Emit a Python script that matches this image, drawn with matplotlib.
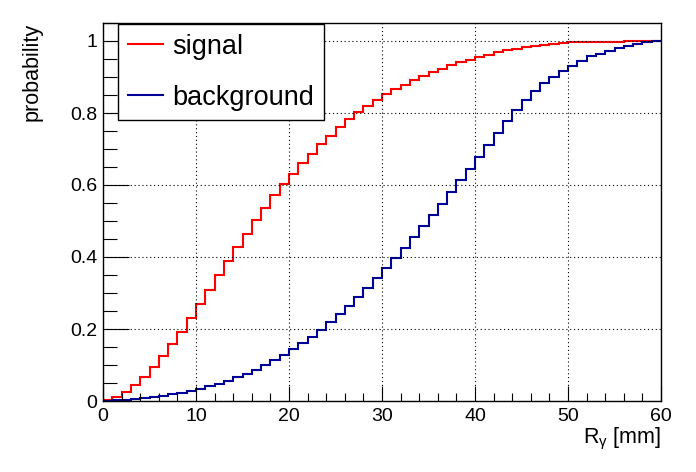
import numpy as np
import matplotlib
matplotlib.use("Agg")
import matplotlib.pyplot as plt
from matplotlib.ticker import MultipleLocator, FuncFormatter

plt.rcParams["font.family"] = ["Liberation Sans", "DejaVu Sans"]
plt.rcParams["mathtext.fontset"] = "custom"
plt.rcParams["mathtext.rm"] = "Liberation Sans"
plt.rcParams["mathtext.it"] = "Liberation Sans"
plt.rcParams["mathtext.default"] = "regular"

# bin edges of R_gamma in mm (60 bins of 1 mm)
bin_edges = np.arange(0, 61, 1)

# cumulative probability per bin
signal = [
    0.003, 0.010, 0.026, 0.044, 0.068, 0.094, 0.125, 0.159, 0.192, 0.231,
    0.269, 0.309, 0.350, 0.390, 0.428, 0.465, 0.503, 0.537, 0.573, 0.603,
    0.630, 0.660, 0.687, 0.713, 0.737, 0.760, 0.782, 0.803, 0.819, 0.836,
    0.854, 0.867, 0.879, 0.892, 0.904, 0.914, 0.923, 0.934, 0.942, 0.948,
    0.956, 0.962, 0.969, 0.974, 0.979, 0.984, 0.986, 0.989, 0.992, 0.994,
    0.996, 0.996, 0.997, 0.997, 0.997, 0.998, 0.999, 0.999, 1.000, 1.000,
]
background = [
    0.001, 0.002, 0.003, 0.006, 0.008, 0.012, 0.015, 0.019, 0.023, 0.029,
    0.034, 0.043, 0.048, 0.056, 0.068, 0.076, 0.087, 0.101, 0.115, 0.129,
    0.144, 0.161, 0.179, 0.197, 0.219, 0.242, 0.264, 0.289, 0.315, 0.342,
    0.369, 0.397, 0.425, 0.456, 0.486, 0.518, 0.548, 0.581, 0.614, 0.645,
    0.678, 0.711, 0.744, 0.779, 0.808, 0.836, 0.861, 0.884, 0.900, 0.918,
    0.931, 0.944, 0.957, 0.964, 0.972, 0.981, 0.987, 0.992, 0.996, 1.000,
]

fig = plt.figure(figsize=(6.96, 4.72), dpi=100)
ax = fig.add_axes([103 / 696, 1 - 401 / 472, 558 / 696, 378 / 472])

ax.stairs(signal, bin_edges, baseline=None, color="#ff0000", lw=1.5, label="signal")
ax.stairs(background, bin_edges, baseline=None, color="#000099", lw=1.5, label="background")

ax.set_xlim(0, 60)
ax.set_ylim(0, 1.05)

ax.xaxis.set_major_locator(MultipleLocator(10))
ax.xaxis.set_minor_locator(MultipleLocator(2))
ax.yaxis.set_major_locator(MultipleLocator(0.2))
ax.yaxis.set_minor_locator(MultipleLocator(0.05))
ax.yaxis.set_major_formatter(FuncFormatter(lambda v, p: f"{v:g}"))

ax.tick_params(axis="both", which="both", direction="in", labelsize=14, width=0.8)
ax.tick_params(axis="x", which="major", length=11, pad=5)
ax.tick_params(axis="x", which="minor", length=6)
ax.tick_params(axis="y", which="major", length=19, pad=4)
ax.tick_params(axis="y", which="minor", length=10)

for s in ax.spines.values():
    s.set_linewidth(1.0)

ax.grid(True, which="major", color="black", linestyle=(0, (1, 2.5)), linewidth=0.8)

ax.set_xlabel(r"R$_{\gamma}$ [mm]", fontsize=15.5, loc="right")
ax.xaxis.set_label_coords(1.0, -0.066)
ax.set_ylabel("probability", fontsize=15.5, loc="top")
ax.yaxis.set_label_coords(-0.108, 1.0)

leg = ax.legend(
    loc="upper left", bbox_to_anchor=(0.027, 0.997), borderaxespad=0,
    fontsize=19.5, handlelength=1.3, handletextpad=0.35, labelspacing=0.92,
    borderpad=0.35, fancybox=False, edgecolor="black", framealpha=1,
)
leg.get_frame().set_linewidth(1.0)

fig.savefig("out.png", dpi=100)
